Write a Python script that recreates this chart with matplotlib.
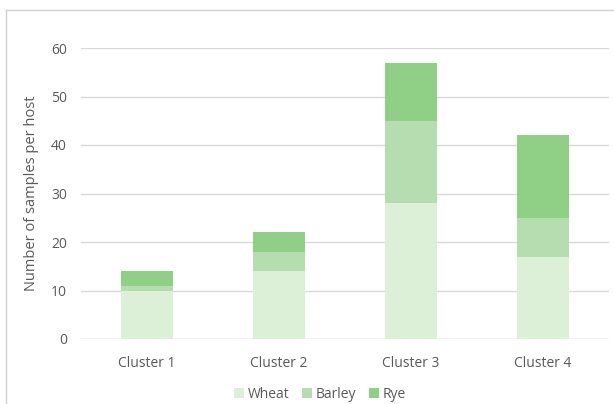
import matplotlib.pyplot as plt
import numpy as np
from matplotlib.lines import Line2D

# data
clusters = ['Cluster 1', 'Cluster 2', 'Cluster 3', 'Cluster 4']
wheat = [10, 14, 28, 17]
barley = [1, 4, 17, 8]
rye = [3, 4, 12, 17]

c_wheat = '#dcefd7'
c_barley = '#b6ddb0'
c_rye = '#90cf86'
txt = '#595959'

plt.rcParams['font.family'] = ['Open Sans', 'DejaVu Sans']

fig = plt.figure(figsize=(6.14, 4.04), dpi=100)
ax = fig.add_axes([81 / 614, 1 - 339 / 404, 528 / 614, 291 / 404])

x = np.arange(len(clusters))
w = 0.4
b2 = np.array(wheat) + np.array(barley)
ax.bar(x, wheat, w, color=c_wheat, label='Wheat', zorder=3)
ax.bar(x, barley, w, bottom=wheat, color=c_barley, label='Barley', zorder=3)
ax.bar(x, rye, w, bottom=b2, color=c_rye, label='Rye', zorder=3)

ax.set_xlim(-0.5, 3.5)
ax.set_ylim(0, 60)
ax.set_yticks(range(0, 61, 10))
ax.yaxis.grid(True, color='#d9d9d9', linewidth=1, zorder=0)
for s in ax.spines.values():
    s.set_visible(False)
ax.axhline(0, color='#e6e6e6', linewidth=1, zorder=2)
ax.tick_params(length=0, labelsize=10, colors=txt)
ax.tick_params(axis='x', pad=12)
ax.tick_params(axis='y', pad=10)
ax.set_xticks(x)
ax.set_xticklabels(clusters)
ax.set_ylabel('Number of samples per host', fontsize=10.5, color=txt, labelpad=9)

fig.legend(*ax.get_legend_handles_labels(), loc='center',
           bbox_to_anchor=(320 / 614, 1 - 394 / 404), ncol=3, frameon=False,
           fontsize=10, labelcolor=txt, handlelength=0.7, handleheight=0.7,
           handletextpad=0.3, columnspacing=0.9)

# outer chart frame
fig.add_artist(Line2D([6 / 614, 1], [1 - 10 / 404, 1 - 10 / 404], color='#d0d0d0', lw=1))
fig.add_artist(Line2D([6 / 614, 6 / 614], [0, 1 - 10 / 404], color='#d0d0d0', lw=1))

fig.savefig('out.png', dpi=100)
